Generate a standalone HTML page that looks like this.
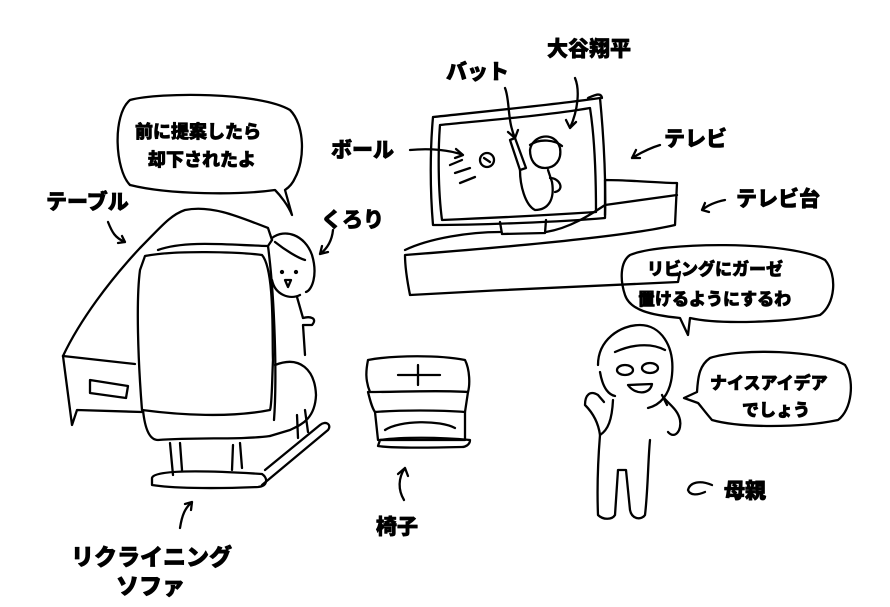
<!DOCTYPE html>
<html><head><meta charset="utf-8"><style>
body{margin:0;background:#fff;width:890px;height:607px;overflow:hidden}
svg{display:block}
text{font-family:"Liberation Sans","Noto Sans CJK JP",sans-serif;font-weight:900;fill:#000;stroke:#000;stroke-width:0.7}
</style></head><body>
<svg width="890" height="607" viewBox="0 0 890 607" fill="none" stroke="#000" stroke-width="2.3" stroke-linecap="round" stroke-linejoin="round">
<path d="M63,356 C80,320 110,280 140,248 C160,228 170,215 185,210 C210,205 235,215 268,228 L272,240"/>
<path d="M63,356 L135,364"/>
<path d="M63,356 L72,425 L77,410 L142,412"/>
<path d="M90,380 L128,386 L126,398 L90,393 Z"/>
<path d="M158,250 C185,240 230,245 268,246 L272,240"/>
<path d="M145,256 C175,250 240,252 262,255 C275,270 272,340 273,360 C272,380 272,405 270,410 C230,418 180,415 142,410 C138,360 136,300 140,270 Z"/>
<path d="M268,246 C275,300 277,380 274,420"/>
<path d="M143,410 C145,430 150,440 158,440 C200,437 240,440 270,436"/>
<path d="M275,365 C300,355 315,370 316,395 C315,420 300,425 290,430 L270,436"/>
<path d="M170,443 L173,475 M180,443 L182,470 M233,445 L232,470 M240,443 L242,468 M297,415 L298,438 M305,410 L308,432"/>
<path d="M152,478 C153,470 200,470 262,474 C268,478 268,486 258,487 C210,489 170,488 152,485 Z"/>
<path d="M262,485 L328,430 C332,425 326,420 320,425 L265,470"/>
<path d="M272,238 C285,228 305,235 312,255 C318,275 312,290 306,292 M272,280 C275,295 290,300 300,295"/>
<path d="M275,242 C285,250 298,258 305,260"/>
<circle cx="282" cy="272" r="1" fill="#000"/><circle cx="296" cy="272" r="1" fill="#000"/>
<path d="M285,280 L291,280 L288,287 Z"/>
<path d="M297,297 L303,318 C310,316 318,318 312,325 L303,325 L305,355"/>
<path d="M433,117 C480,112 560,104 600,98 C604,140 606,180 605,218 C560,222 480,225 433,225 C430,190 430,150 433,117 Z"/>
<path d="M440,125 C490,120 550,115 590,108 C595,140 596,180 596,212 C550,215 490,218 442,220 C438,190 438,150 440,125 Z"/>
<path d="M500,222 L502,234 L545,233 L546,220"/>
<path d="M588,98 C595,95 601,92 602,98"/>
<path d="M405,250 C430,238 470,232 500,232 M546,232 C570,228 590,215 605,205 M605,215 L605,180 C630,180 660,183 677,183 L675,225 C620,238 470,250 405,255 C405,270 408,285 410,295 C500,290 600,285 678,282 L680,272"/>
<path d="M605,205 L677,195"/>
<circle cx="487" cy="160" r="7"/>
<path d="M484,158 L490,162"/>
<path d="M455,173 L470,168 M460,183 L475,177 M450,165 L462,160"/>
<path d="M530,150 C532,135 555,130 560,148 C562,160 555,168 545,168 C535,168 530,160 530,150 Z"/>
<path d="M530,145 C540,138 555,140 562,146"/>
<path d="M510,140 L520,170 L526,168 L515,138 Z"/>
<path d="M520,170 C520,185 525,205 535,210 C548,210 555,200 552,182 L548,170"/>
<path d="M550,178 C560,178 565,190 555,192"/>
<path d="M505,88 C510,100 507,120 515,138 M508,132 L515,138 L518,130"/>
<path d="M575,78 C580,90 578,110 570,128 M566,120 L570,128 L576,122"/>
<path d="M410,150 C430,148 450,150 463,155 M456,149 L463,155 L455,158"/>
<path d="M660,145 C650,148 642,152 632,158 M640,158 L632,158 L636,150"/>
<path d="M725,200 C715,202 708,205 702,210 M709,212 L702,210 L705,203"/>
<path d="M108,222 C112,232 115,238 125,242 M118,243 L125,242 L122,236"/>
<path d="M333,230 C332,240 328,248 320,254 M322,246 L320,254 L328,252"/>
<path d="M404,500 C398,490 398,478 405,468 M398,474 L405,468 L408,476"/>
<path d="M180,528 C182,515 185,508 192,502 M185,504 L192,502 L191,510"/>
<path d="M712,485 C700,480 690,482 688,490 C690,496 698,495 705,492"/>
<path d="M368,360 C395,355 440,355 465,360 C470,370 470,385 468,392 C440,390 400,392 370,392 C365,380 366,370 368,360 Z"/>
<path d="M398,375 L440,375 M418,365 L418,385"/>
<path d="M368,392 C370,400 372,408 375,412 C400,410 440,410 465,412 L468,392"/>
<path d="M375,412 L378,440 L465,440 L465,412"/>
<path d="M380,440 C400,437 440,437 470,440 C470,445 465,447 462,447 C420,448 390,448 378,446 Z"/>
<path d="M385,430 C400,420 440,420 455,428"/>
<path d="M598,365 C598,340 620,325 640,325 C660,325 675,345 672,375 C670,395 660,405 648,408"/>
<path d="M600,372 C603,390 610,395 615,396 M662,395 L667,405"/>
<path d="M615,352 C630,345 650,342 665,350"/>
<ellipse cx="625" cy="370" rx="8" ry="5"/><ellipse cx="650" cy="368" rx="8" ry="5"/>
<path d="M628,385 C635,395 650,395 652,384 Z"/>
<path d="M613,400 C612,420 608,430 600,435 C598,420 590,410 585,405 C585,395 590,390 598,395 L604,402"/>
<path d="M664,398 C670,405 678,410 680,420 C682,430 675,440 668,432"/>
<path d="M600,435 C598,460 597,490 598,515 C603,520 612,520 615,515 L618,470 L626,470 L630,510 C632,520 642,520 645,515 C648,490 648,460 650,440"/>
<path d="M130,100 C160,92 260,92 290,110 C305,125 305,160 295,178 C292,185 288,188 285,190 L292,215 C288,205 280,195 275,190 C240,195 170,195 130,185 C115,170 112,115 130,100 Z"/>
<path d="M630,255 C660,242 790,240 825,260 C838,275 835,305 820,315 C790,322 720,325 690,318 L688,335 L680,318 C650,315 630,310 625,295 C620,280 620,262 630,255 Z"/>
<path d="M710,358 C740,348 820,350 845,365 C855,380 852,410 838,420 C800,428 740,428 712,420 C705,412 700,405 698,403 L684,398 L697,392 C698,375 700,365 710,358 Z"/>
<g>
<text x="547" y="56" font-size="21">大谷翔平</text>
<text x="446" y="79" font-size="21">バット</text>
<text x="331" y="157" font-size="21">ボール</text>
<text x="664" y="146" font-size="21">テレビ</text>
<text x="736" y="206" font-size="21">テレビ台</text>
<text x="46" y="209" font-size="21">テーブル</text>
<text x="321" y="227" font-size="21">くろり</text>
<text x="135" y="138" font-size="18">前に提案したら</text>
<text x="148" y="166" font-size="18">却下されたよ</text>
<text x="647" y="275" font-size="17">リビングにガーゼ</text>
<text x="638" y="305" font-size="17">置けるようにするわ</text>
<text x="710" y="389" font-size="17">ナイスアイデア</text>
<text x="742" y="416" font-size="17">でしょう</text>
<text x="724" y="498" font-size="21">母親</text>
<text x="376" y="534" font-size="21">椅子</text>
<text x="71" y="565" font-size="23">リクライニング</text>
<text x="116" y="594" font-size="23">ソファ</text>
</g>
</svg>
</body></html>
